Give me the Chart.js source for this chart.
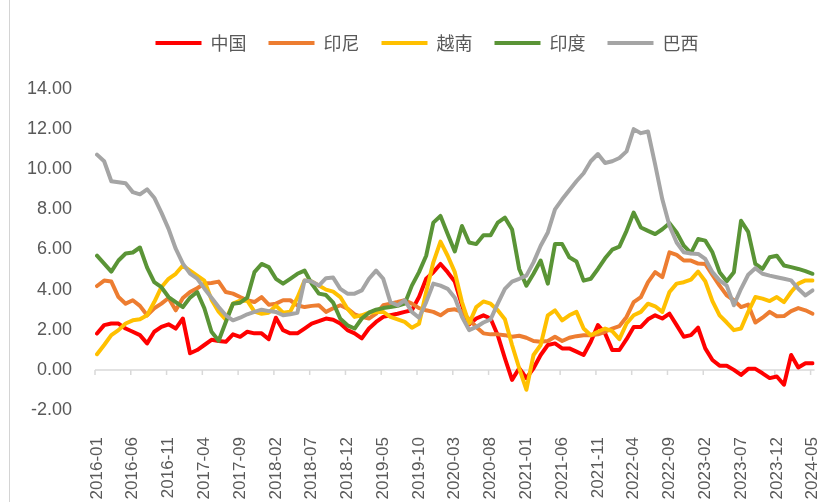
<!DOCTYPE html>
<html>
<head>
<meta charset="utf-8">
<script src="https://cdn.jsdelivr.net/npm/chart.js@4.4.1/dist/chart.umd.min.js"></script>
<style>
  html, body { margin: 0; padding: 0; background: #fff; }
  #wrap { position: relative; width: 836px; height: 502px; }
  #edge { position: absolute; left: 9px; top: 0; width: 1px; height: 502px; background: #d4d4d4; }
</style>
</head>
<body>
<div id="wrap">
  <canvas id="myChart" width="836" height="502"></canvas>
  <div id="edge"></div>
</div>
<script>
// monthly series, 2016-01 .. 2024-05
var seriesNames = ['中国', '印尼', '越南', '印度', '巴西'];
var seriesColors = ['#FF0000', '#ED7D31', '#FFC000', '#5A9436', '#A5A5A5'];

var china = [1.81, 2.23, 2.31, 2.31, 2.06, 1.9, 1.73, 1.32, 1.9, 2.14,
  2.27, 2.06, 2.56, 0.83, 0.99, 1.24, 1.5, 1.44, 1.4, 1.77,
  1.65, 1.9, 1.82, 1.82, 1.53, 2.6, 1.98, 1.82, 1.82, 2.06,
  2.31, 2.43, 2.56, 2.5, 2.31, 1.98, 1.82, 1.57, 2.06, 2.39,
  2.64, 2.72, 2.8, 2.89, 2.97, 3.63, 4.54, 4.87, 5.28, 4.87,
  4.4, 3.22, 2.27, 2.56, 2.72, 2.56, 1.73, 0.58, -0.5, 0.08,
  -0.41, 0.08, 0.74, 1.24, 1.32, 1.07, 1.07, 0.91, 0.74, 1.4,
  2.23, 1.82, 0.99, 0.99, 1.53, 2.14, 2.14, 2.52, 2.72, 2.56,
  2.8, 2.23, 1.65, 1.73, 2.1, 1.07, 0.49, 0.21, 0.21, 0.0,
  -0.25, 0.05, 0.05, -0.17, -0.41, -0.33, -0.74, 0.74, 0.12, 0.33,
  0.33];
var indonesia = [4.18, 4.45, 4.4, 3.63, 3.3, 3.47, 3.19, 2.72, 3.07, 3.3,
  3.58, 2.97, 3.58, 3.88, 4.07, 4.3, 4.33, 4.4, 3.88, 3.8,
  3.63, 3.47, 3.38, 3.63, 3.25, 3.3, 3.47, 3.47, 3.22, 3.13,
  3.19, 3.22, 2.89, 3.07, 3.22, 3.05, 2.77, 2.64, 2.56, 2.8,
  3.22, 3.3, 3.38, 3.47, 3.3, 3.08, 2.97, 2.89, 2.72, 2.97,
  3.02, 2.89, 2.52, 2.14, 1.82, 1.77, 1.77, 1.73, 1.65, 1.7,
  1.6, 1.44, 1.4, 1.44, 1.65, 1.44, 1.6, 1.68, 1.73, 1.73,
  1.77, 1.9, 2.06, 2.18, 2.64, 3.38, 3.63, 4.37, 4.87, 4.62,
  5.86, 5.73, 5.45, 5.45, 5.3, 5.28, 4.74, 4.2, 3.71, 3.47,
  3.13, 3.25, 2.36, 2.6, 2.89, 2.67, 2.68, 2.93, 3.08, 2.97,
  2.8];
var vietnam = [0.78, 1.24, 1.73, 1.98, 2.31, 2.47, 2.52, 2.72, 3.38, 4.12,
  4.54, 4.79, 5.2, 4.95, 4.7, 4.45, 3.5, 2.9, 2.5, 3.3,
  3.45, 3.45, 2.9, 2.8, 2.85, 3.2, 2.85, 2.9, 3.6, 4.45,
  4.4, 4.2, 4.0, 3.9, 3.63, 3.05, 2.64, 2.72, 2.85, 2.89,
  2.89, 2.64, 2.52, 2.39, 2.1, 2.3, 3.88, 5.36, 6.39, 5.69,
  4.87, 3.38, 2.31, 3.13, 3.41, 3.3, 2.97, 2.52, 1.24, 0.08,
  -0.99, 0.74, 1.24, 2.72, 2.97, 2.47, 2.72, 2.89, 2.06, 1.73,
  1.9, 2.06, 1.93, 1.53, 2.31, 2.72, 2.89, 3.3, 3.17, 2.89,
  3.88, 4.3, 4.37, 4.5, 4.9, 4.42, 3.43, 2.72, 2.36, 1.98,
  2.06, 2.89, 3.63, 3.55, 3.43, 3.63, 3.38, 3.88, 4.3, 4.46,
  4.46];
var india = [5.69, 5.3, 4.9, 5.45, 5.8, 5.85, 6.1, 5.1, 4.37, 4.12,
  3.63, 3.38, 3.13, 3.6, 3.88, 3.07, 1.9, 1.45, 2.39, 3.3,
  3.35, 3.6, 4.87, 5.28, 5.12, 4.54, 4.3, 4.54, 4.79, 4.95,
  4.3, 3.8, 3.73, 3.35, 2.55, 2.22, 2.06, 2.56, 2.85, 3.0,
  3.08, 3.13, 3.19, 3.3, 4.2, 4.87, 5.69, 7.34, 7.67, 6.77,
  5.9, 7.17, 6.35, 6.27, 6.71, 6.71, 7.34, 7.59, 7.0, 5.03,
  4.2, 4.79, 5.45, 4.3, 6.27, 6.27, 5.61, 5.4, 4.45, 4.54,
  5.03, 5.56, 5.99, 6.14, 6.93, 7.84, 7.1, 6.93, 6.77, 7.01,
  7.31, 6.85, 6.19, 5.82, 6.52, 6.44, 5.86, 4.87, 4.42, 4.87,
  7.43, 6.88, 5.28, 5.03, 5.61, 5.69, 5.2, 5.12, 5.03, 4.92,
  4.79];
var brazil = [10.73, 10.4, 9.4, 9.35, 9.3, 8.86, 8.75, 9.0, 8.58, 7.84,
  7.03, 6.04, 5.3, 4.8, 4.55, 4.06, 3.6, 3.13, 2.72, 2.47,
  2.6, 2.77, 2.89, 3.0, 2.93, 2.89, 2.72, 2.77, 2.85, 4.45,
  4.4, 4.2, 4.57, 4.6, 4.04, 3.8, 3.8, 3.96, 4.54, 4.95,
  4.54, 3.38, 3.22, 3.47, 2.89, 2.6, 3.38, 4.3, 4.2, 4.04,
  3.6, 2.64, 1.98, 2.14, 2.36, 2.52, 3.3, 4.04, 4.4, 4.54,
  4.7, 5.36, 6.19, 6.85, 8.0, 8.5, 8.95, 9.4, 9.8, 10.4,
  10.76, 10.31, 10.4, 10.56, 10.89, 12.0, 11.8, 11.88, 10.23, 8.5,
  7.18, 6.35, 5.86, 5.8, 5.78, 5.53, 4.87, 4.46, 4.2, 3.22,
  4.04, 4.74, 5.07, 4.79, 4.7, 4.62, 4.54, 4.46, 4.04, 3.71,
  3.96];

var yMin = -2;
var yMax = 14;
var yStep = 2;
var labelEvery = 5;

var months = [];
for (var y = 2016; y <= 2024; y++) {
  for (var m = 1; m <= 12; m++) {
    if (y === 2024 && m > 5) break;
    months.push(y + '-' + (m < 10 ? '0' + m : m));
  }
}

document.addEventListener('DOMContentLoaded', function() {
  var allSeries = [china, indonesia, vietnam, india, brazil];
  var datasets = [];
  for (var i = 0; i < allSeries.length; i++) {
    datasets.push({
      label: seriesNames[i],
      data: allSeries[i],
      borderColor: seriesColors[i],
      backgroundColor: seriesColors[i],
      borderWidth: 4,
      pointRadius: 0,
      tension: 0,
      borderJoinStyle: 'round',
      borderCapStyle: 'round',
      order: allSeries.length - i
    });
  }

  // axis line through zero with small ticks, like the original
  var zeroAxis = {
    id: 'zeroAxis',
    beforeDatasetsDraw: function(chart) {
      var ctx = chart.ctx;
      var xs = chart.scales.x;
      var y0 = chart.scales.y.getPixelForValue(0);
      ctx.save();
      ctx.strokeStyle = '#d9d9d9';
      ctx.lineWidth = 1.5;
      ctx.beginPath();
      ctx.moveTo(chart.chartArea.left - 2, y0);
      ctx.lineTo(chart.chartArea.right + 2, y0);
      for (var k = 0; k < months.length; k += labelEvery) {
        var px = xs.getPixelForValue(k) - 2;
        ctx.moveTo(px, y0);
        ctx.lineTo(px, y0 + 5);
      }
      ctx.stroke();
      ctx.restore();
    }
  };

  // more room under the legend, and nudge it left a little
  var legendGap = {
    id: 'legendGap',
    beforeInit: function(chart) {
      var origFit = chart.legend.fit;
      chart.legend.fit = function() {
        origFit.bind(chart.legend)();
        this.height += 27;
      };
    },
    afterLayout: function(chart) {
      chart.legend.left -= 4;
      chart.legend.right -= 4;
    }
  };

  var canvas = document.getElementById('myChart');
  var ctx = canvas.getContext('2d');
  var myChart = new Chart(ctx, {
    type: 'line',
    data: {
      labels: months,
      datasets: datasets
    },
    plugins: [zeroAxis, legendGap],
    options: {
      responsive: false,
      animation: false,
      devicePixelRatio: 1,
      layout: { padding: { left: 26, right: 0, top: 12, bottom: 0 } },
      plugins: {
        tooltip: { enabled: false },
        legend: {
          position: 'top',
          labels: {
            usePointStyle: true,
            pointStyle: 'line',
            pointStyleWidth: 46,
            padding: 22,
            color: '#595959',
            font: { family: '"Noto Sans CJK SC", "Noto Sans", sans-serif', size: 18 },
            sort: function(a, b) { return a.datasetIndex - b.datasetIndex; }
          }
        }
      },
      scales: {
        x: {
          offset: false,
          grid: {
            display: true,
            drawOnChartArea: false,
            drawTicks: true,
            tickLength: 24,
            color: 'rgba(0,0,0,0)'
          },
          border: { display: false },
          afterFit: function(scale) { scale.height = 92; },
          ticks: {
            autoSkip: false,
            minRotation: 90,
            maxRotation: 90,
            padding: 3,
            color: '#595959',
            font: { family: '"Liberation Sans", Arial, sans-serif', size: 17 },
            callback: function(val, idx) {
              return idx % labelEvery === 0 ? months[idx] : '';
            }
          }
        },
        y: {
          min: yMin,
          max: yMax,
          grid: { display: false, drawTicks: false },
          border: { display: false },
          afterFit: function(scale) { scale.width = 71; },
          ticks: {
            stepSize: yStep,
            padding: 25,
            color: '#595959',
            font: { family: '"Liberation Sans", Arial, sans-serif', size: 18 },
            callback: function(v) { return v.toFixed(2); }
          }
        }
      }
    }
  });
});
</script>
</body>
</html>
